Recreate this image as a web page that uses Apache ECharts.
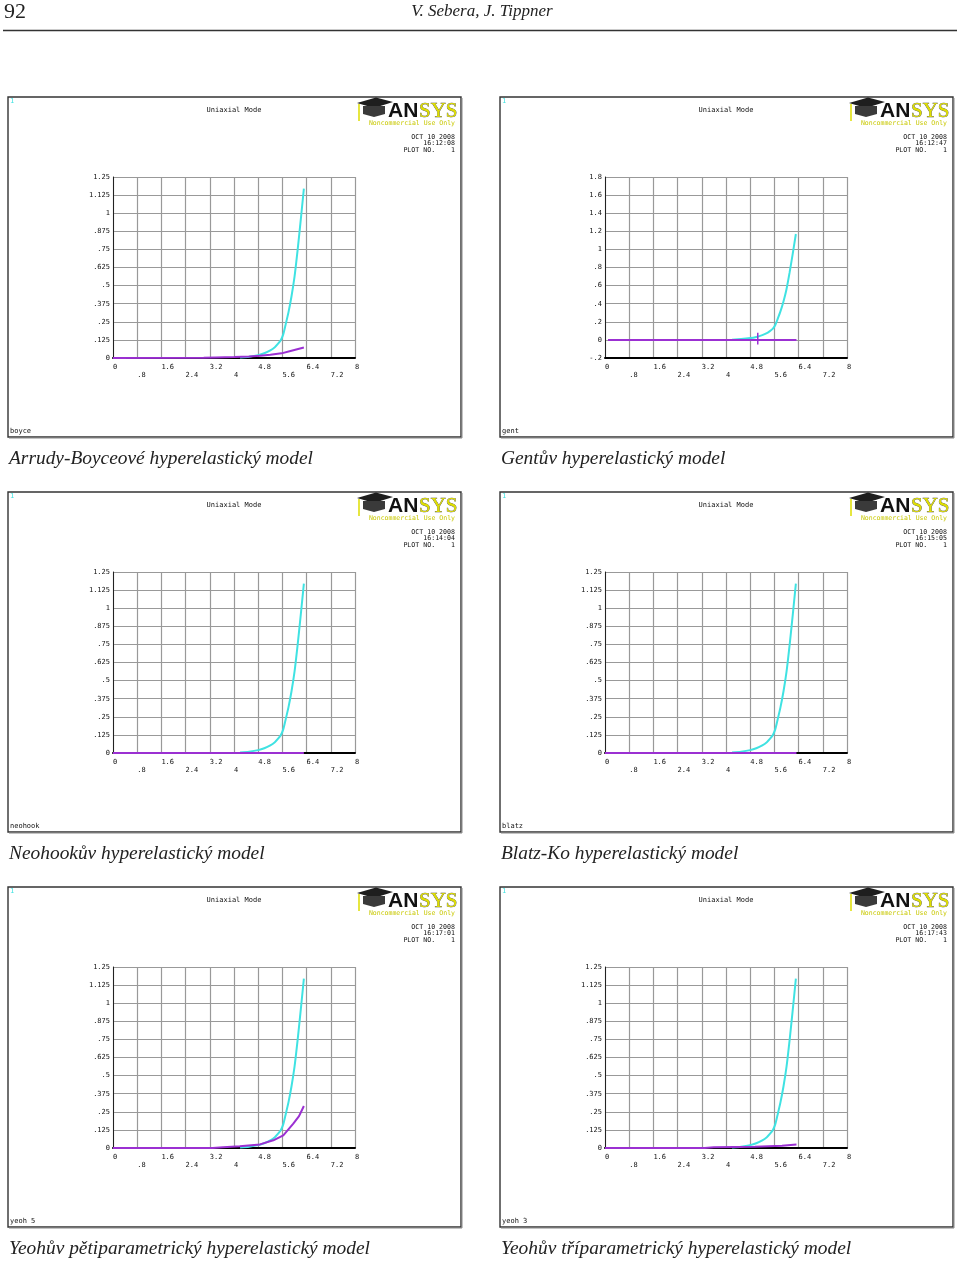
<!DOCTYPE html>
<html><head><meta charset="utf-8">
<script src="https://cdn.jsdelivr.net/npm/echarts@6/dist/echarts.min.js"></script>
<style>html,body{margin:0;padding:0;background:#fff}#c{width:960px;height:1261px}</style>
</head><body><div id="c"></div>
<script>
// ---------- data ----------
const pageNumber = '92';
const pageAuthors = 'V. Sebera, J. Tippner';
const panelTitle = 'Uniaxial Mode';
const panelNames = ['boyce', 'gent', 'neohook', 'blatz', 'yeoh 5', 'yeoh 3'];
const captions = [
  'Arrudy-Boyceové hyperelastický model',
  'Gentův hyperelastický model',
  'Neohookův hyperelastický model',
  'Blatz-Ko hyperelastický model',
  'Yeohův pětiparametrický hyperelastický model',
  'Yeohův tříparametrický hyperelastický model'
];
const plotDate = 'OCT 10 2008';
const plotTimes = ['16:12:08', '16:12:47', '16:14:04', '16:15:05', '16:17:01', '16:17:43'];
const plotNo = 'PLOT NO.    1';
const watermark = 'Noncommercial Use Only';
// y axis ranges per panel
const yMins = [0, -0.2, 0, 0, 0, 0];
const yMaxs = [1.25, 1.8, 1.25, 1.25, 1.25, 1.25];
const yIntervals = [0.125, 0.2, 0.125, 0.125, 0.125, 0.125];
const xMin = 0, xMax = 8, xInterval = 0.8;
// experimental (test) curve, cyan, same in all panels
const testCurve = [
  [4.2, 0.003], [4.5, 0.009], [4.8, 0.02], [5.0, 0.033], [5.2, 0.053], [5.35, 0.075],
  [5.45, 0.097], [5.55, 0.125], [5.63, 0.165], [5.7, 0.225], [5.8, 0.315], [5.9, 0.425],
  [6.0, 0.56], [6.1, 0.74], [6.2, 0.94], [6.31, 1.17]
];
// fitted model curves, purple
const boyceFit = [[0, 0], [3.0, 0.001], [3.4, 0.004], [4.0, 0.007], [4.5, 0.011], [4.86, 0.015],
  [5.2, 0.022], [5.57, 0.032], [5.9, 0.05], [6.31, 0.072]];
const gentFit = [[0.1, 0], [6.33, 0]];
const gentCursor = [[5.05, -0.05], [5.05, 0.08]];
const neohookFit = [[0, 0], [6.31, 0]];
const blatzFit = [[0, 0], [6.33, 0]];
const yeoh5Fit = [[0, 0], [3.3, 0], [3.64, 0.006], [4.19, 0.0115], [4.86, 0.025], [5.3, 0.053],
  [5.63, 0.087], [5.96, 0.168], [6.15, 0.22], [6.31, 0.29]];
const yeoh3Fit = [[0, 0], [3.3, 0], [3.6, 0.006], [4.95, 0.008], [5.0, 0.013], [5.85, 0.016],
  [5.9, 0.022], [6.33, 0.024]];
const fits = [boyceFit, gentFit, neohookFit, blatzFit, yeoh5Fit, yeoh3Fit];

// ---------- layout / style ----------
const CYAN = '#3fe2e2', PURPLE = '#9b30d2', YELLOW = '#dede00';
const mono = '"DejaVu Sans Mono", "Liberation Mono", monospace';
const serif = '"Liberation Serif", "DejaVu Serif", serif';
const panelX = [8, 500], panelY = [97, 492, 887];
const PW = 453, PH = 340;

function fmt(v) {
  let s = String(Math.round(v * 1000) / 1000);
  return s.replace(/^0\./, '.').replace(/^-0\./, '-.');
}

const grids = [], xAxes = [], yAxes = [], series = [];
const graphics = [
  { type: 'text', x: 4, y: 12, style: { text: pageNumber, font: '22px ' + serif, fill: '#222', textVerticalAlign: 'middle' } },
  { type: 'text', x: 482, y: 12, style: { text: pageAuthors, font: 'italic 17px ' + serif, fill: '#222', textAlign: 'center', textVerticalAlign: 'middle' } },
  { type: 'line', shape: { x1: 3, y1: 30.5, x2: 957, y2: 30.5 }, style: { stroke: '#333', lineWidth: 1.5 } }
];

for (let i = 0; i < 6; i++) {
  const ox = panelX[i % 2], oy = panelY[Math.floor(i / 2)];
  grids.push({ left: ox + 105, top: oy + 80, width: 242, height: 181 });
  xAxes.push({
    type: 'value', gridIndex: i, min: xMin, max: xMax, interval: xInterval,
    axisLine: { show: true, onZero: false, lineStyle: { color: '#000', width: 2 } },
    axisTick: { show: false },
    splitLine: { show: true, lineStyle: { color: '#999', width: 1.2 } },
    axisLabel: {
      align: 'left', margin: 5, fontSize: 7, lineHeight: 8, fontFamily: mono, color: '#111',
      formatter: (v, idx) => (idx % 2 === 1 ? '\n' : '') + fmt(v)
    }
  });
  yAxes.push({
    type: 'value', gridIndex: i, min: yMins[i], max: yMaxs[i], interval: yIntervals[i],
    axisLine: { show: true, onZero: false, lineStyle: { color: '#222', width: 1 } },
    axisTick: { show: false },
    splitLine: { show: true, lineStyle: { color: '#999', width: 1.2 } },
    axisLabel: { margin: 3, fontSize: 7, fontFamily: mono, color: '#111', formatter: v => fmt(v) }
  });
  series.push({
    type: 'line', xAxisIndex: i, yAxisIndex: i, data: testCurve, showSymbol: false,
    smooth: 0.2,
    lineStyle: { color: CYAN, width: 2 }, z: 3, silent: true
  });
  series.push({
    type: 'line', xAxisIndex: i, yAxisIndex: i, data: fits[i], showSymbol: false,
    smooth: false,
    lineStyle: { color: PURPLE, width: 2 }, z: 4, silent: true
  });
  if (i === 1) {
    series.push({
      type: 'line', xAxisIndex: i, yAxisIndex: i, data: gentCursor, showSymbol: false,
      lineStyle: { color: PURPLE, width: 1.5 }, z: 5, silent: true
    });
  }

  // panel frame
  graphics.push({ type: 'rect', shape: { x: ox, y: oy, width: PW, height: PH }, style: { fill: null, stroke: '#333', lineWidth: 1.4 } });
  graphics.push({ type: 'polyline', shape: { points: [[ox + PW + 1, oy + 1], [ox + PW + 1, oy + PH + 1], [ox + 1, oy + PH + 1]] }, style: { fill: null, stroke: '#888', lineWidth: 1 } });
  // small texts
  graphics.push({ type: 'text', x: ox + 2, y: oy + 4, style: { text: '1', font: '7px ' + mono, fill: CYAN, textVerticalAlign: 'middle' } });
  graphics.push({ type: 'text', x: ox + 226, y: oy + 13, style: { text: panelTitle, font: '7px ' + mono, fill: '#111', textAlign: 'center', textVerticalAlign: 'middle' } });
  graphics.push({ type: 'text', x: ox + 2, y: oy + 334, style: { text: panelNames[i], font: '7px ' + mono, fill: '#111', textVerticalAlign: 'middle' } });
  graphics.push({ type: 'text', x: ox + 447, y: oy + 40.5, style: { text: plotDate, font: '6.6px ' + mono, fill: '#111', textAlign: 'right', textVerticalAlign: 'middle' } });
  graphics.push({ type: 'text', x: ox + 447, y: oy + 46.7, style: { text: plotTimes[i], font: '6.6px ' + mono, fill: '#111', textAlign: 'right', textVerticalAlign: 'middle' } });
  graphics.push({ type: 'text', x: ox + 447, y: oy + 53.3, style: { text: plotNo, font: '6.6px ' + mono, fill: '#111', textAlign: 'right', textVerticalAlign: 'middle' } });
  // ANSYS logo
  graphics.push({ type: 'polygon', shape: { points: [[ox + 349, oy + 6], [ox + 368, oy + 0.5], [ox + 385, oy + 5], [ox + 366, oy + 11]] }, style: { fill: '#1e1e1e' } });
  graphics.push({ type: 'polygon', shape: { points: [[ox + 355, oy + 9], [ox + 377, oy + 9], [ox + 377, oy + 17], [ox + 366, oy + 20], [ox + 355, oy + 17]] }, style: { fill: '#3a3a3a' } });
  graphics.push({ type: 'line', shape: { x1: ox + 351, y1: oy + 7, x2: ox + 351, y2: oy + 24 }, style: { stroke: YELLOW, lineWidth: 1.5 } });
  graphics.push({ type: 'text', x: ox + 380, y: oy + 14, style: { text: 'AN', font: 'bold 21px "Liberation Sans", sans-serif', fill: '#111', textVerticalAlign: 'middle' } });
  graphics.push({ type: 'text', x: ox + 411, y: oy + 14, style: { text: 'SYS', font: '21px ' + serif, fill: YELLOW, stroke: '#444', lineWidth: 0.6, textVerticalAlign: 'middle' } });
  graphics.push({ type: 'text', x: ox + 447, y: oy + 26, style: { text: watermark, font: '6.5px ' + mono, fill: '#c8c800', textAlign: 'right', textVerticalAlign: 'middle' } });
  // caption
  graphics.push({ type: 'text', x: ox + 1, y: oy + 362, style: { text: captions[i], font: 'italic 19.4px ' + serif, fill: '#222', textVerticalAlign: 'middle' } });
}

const chart = echarts.init(document.getElementById('c'), null, { renderer: 'canvas', width: 960, height: 1261 });
chart.setOption({
  backgroundColor: '#fff',
  animation: false,
  grid: grids,
  xAxis: xAxes,
  yAxis: yAxes,
  series: series,
  graphic: { elements: graphics }
});
</script>
</body></html>
